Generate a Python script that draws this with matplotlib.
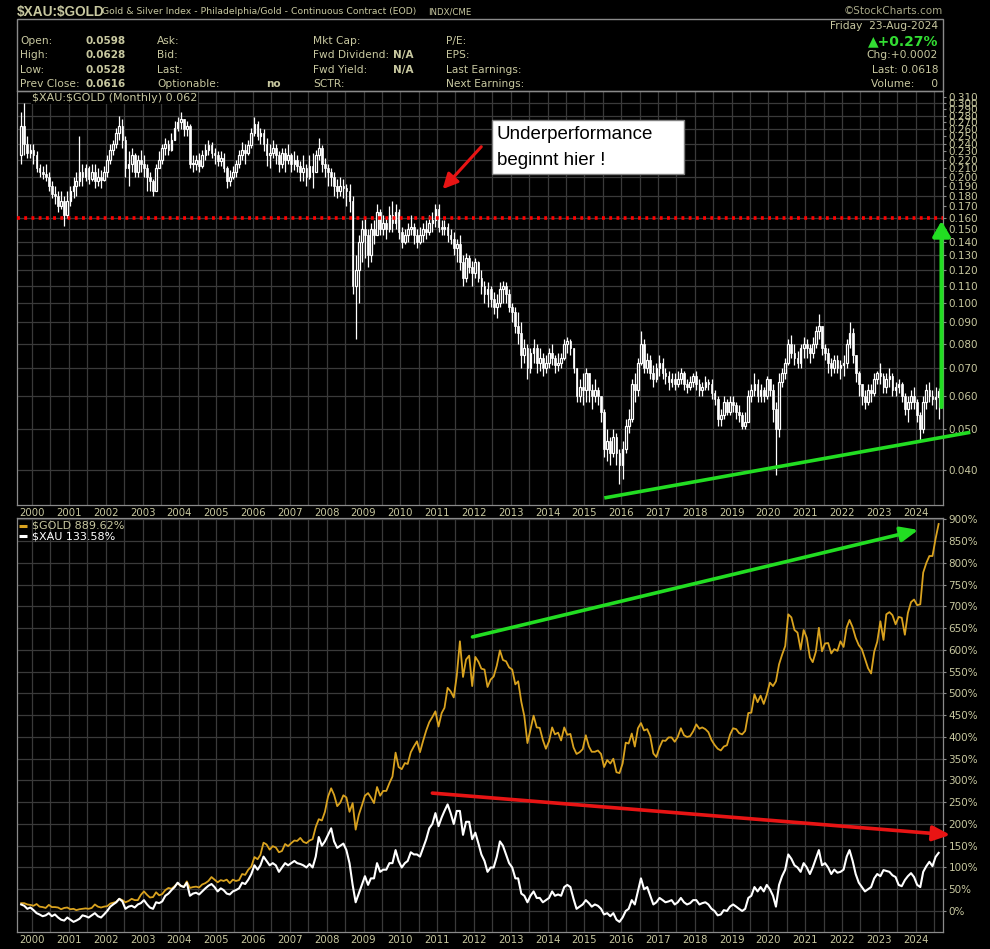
import numpy as np
import pandas as pd
import matplotlib
matplotlib.use("Agg")
import matplotlib.pyplot as plt
import matplotlib.dates as mdates
from matplotlib.ticker import FixedLocator, NullLocator, FuncFormatter
from matplotlib.patches import Rectangle

# ---- data: monthly $XAU:$GOLD ratio, Sep 1999 .. Aug 2024 ----
first_open = 0.225
close = [
    .265, .240, .228, .232,  # 1999 Sep-Dec
    .225, .210, .205, .203, .200, .190, .182, .180, .170, .175, .162, .175,  # 2000
    .185, .190, .195, .205, .200, .210, .198, .205, .195, .200, .197, .205,  # 2001
    .220, .232, .240, .255, .265, .245, .210, .215, .225, .205, .220, .215,  # 2002
    .210, .200, .195, .185, .210, .220, .235, .240, .232, .245, .262, .270,  # 2003
    .275, .260, .265, .215, .215, .220, .212, .225, .232, .238, .228, .225,  # 2004
    .218, .222, .210, .195, .200, .205, .215, .225, .232, .228, .238, .255,  # 2005
    .268, .250, .255, .240, .225, .228, .235, .225, .215, .228, .220, .225,  # 2006
    .215, .220, .212, .205, .210, .200, .212, .205, .225, .235, .215, .210,  # 2007
    .205, .200, .190, .185, .190, .188, .185, .175, .110, .120, .140, .150,  # 2008
    .145, .130, .150, .145, .165, .150, .155, .150, .162, .155, .165, .148,  # 2009
    .140, .145, .150, .152, .145, .140, .145, .150, .148, .155, .158, .168,  # 2010
    .152, .150, .152, .145, .142, .135, .138, .125, .115, .128, .122, .118,  # 2011
    .125, .115, .110, .105, .108, .102, .098, .100, .108, .110, .105, .098,  # 2012
    .095, .088, .085, .075, .078, .070, .076, .078, .072, .074, .070, .072,  # 2013
    .076, .074, .071, .072, .074, .080, .081, .078, .070, .060, .063, .062,  # 2014
    .068, .062, .060, .062, .060, .055, .045, .047, .044, .048, .044, .041,  # 2015
    .045, .051, .053, .064, .062, .072, .080, .070, .073, .068, .066, .070,  # 2016
    .072, .068, .067, .065, .066, .064, .066, .068, .064, .063, .065, .067,  # 2017
    .064, .062, .063, .065, .064, .061, .059, .053, .054, .058, .055, .058,  # 2018
    .057, .055, .054, .051, .052, .060, .062, .064, .060, .062, .060, .066,  # 2019
    .062, .056, .050, .065, .068, .072, .080, .076, .074, .072, .078, .080,  # 2020
    .078, .076, .080, .086, .088, .078, .076, .072, .070, .073, .070, .071,  # 2021
    .072, .080, .085, .075, .068, .064, .060, .058, .062, .061, .066, .068,  # 2022
    .067, .063, .066, .067, .062, .063, .064, .060, .056, .058, .060, .058,  # 2023
    .054, .050, .058, .062, .060, .059, .0598, .0618,  # 2024 Jan-Aug
]
high = [
    .285, .300, .250, .240,
    .240, .230, .215, .212, .215, .205, .195, .190, .185, .185, .180, .185,
    .190, .200, .205, .250, .215, .215, .212, .215, .215, .210, .208, .212,
    .225, .240, .245, .262, .280, .275, .250, .230, .235, .228, .226, .232,
    .225, .215, .205, .198, .215, .230, .240, .248, .245, .255, .272, .278,
    .285, .275, .272, .268, .225, .225, .228, .232, .240, .245, .242, .235,
    .230, .230, .228, .212, .208, .212, .220, .232, .242, .240, .245, .262,
    .278, .272, .262, .260, .248, .240, .245, .240, .230, .235, .235, .240,
    .228, .230, .225, .218, .225, .215, .225, .228, .232, .248, .238, .222,
    .215, .210, .205, .198, .200, .198, .192, .192, .180, .130, .145, .158,
    .160, .150, .155, .158, .172, .168, .162, .160, .170, .175, .172, .168,
    .152, .150, .155, .162, .155, .150, .152, .155, .158, .162, .165, .172,
    .172, .158, .158, .155, .150, .148, .142, .145, .130, .132, .130, .126,
    .128, .126, .120, .113, .112, .110, .106, .105, .112, .113, .112, .108,
    .100, .098, .095, .090, .082, .080, .078, .082, .080, .078, .076, .075,
    .078, .080, .075, .076, .076, .082, .083, .082, .078, .070, .066, .068,
    .070, .068, .064, .066, .063, .060, .056, .050, .048, .050, .049, .045,
    .047, .053, .056, .066, .068, .074, .086, .082, .076, .075, .071, .072,
    .075, .074, .070, .069, .068, .068, .069, .070, .069, .066, .067, .068,
    .069, .066, .065, .067, .066, .066, .062, .060, .056, .060, .059, .060,
    .060, .058, .057, .055, .055, .062, .064, .068, .066, .064, .063, .067,
    .066, .064, .058, .068, .070, .074, .082, .084, .080, .077, .080, .083,
    .082, .080, .083, .088, .094, .088, .080, .078, .074, .075, .075, .073,
    .075, .082, .090, .087, .075, .069, .064, .062, .064, .064, .068, .069,
    .072, .068, .068, .070, .068, .065, .066, .065, .061, .060, .062, .063,
    .059, .055, .060, .064, .065, .062, .063, .0628,
]
low = [
    .215, .225, .222, .222,
    .215, .205, .200, .198, .195, .185, .178, .172, .165, .168, .153, .160,
    .170, .178, .180, .190, .190, .195, .192, .195, .188, .190, .188, .195,
    .200, .215, .225, .235, .245, .235, .200, .190, .205, .200, .200, .205,
    .200, .185, .185, .180, .185, .210, .215, .225, .225, .230, .245, .258,
    .260, .250, .250, .210, .205, .208, .205, .210, .220, .225, .222, .215,
    .212, .212, .205, .188, .190, .198, .200, .210, .220, .215, .225, .235,
    .250, .245, .240, .230, .212, .210, .222, .215, .205, .210, .205, .215,
    .205, .208, .205, .195, .195, .190, .198, .188, .205, .220, .205, .200,
    .190, .190, .180, .178, .180, .178, .170, .165, .105, .082, .100, .125,
    .128, .122, .125, .138, .145, .145, .145, .142, .148, .148, .150, .142,
    .135, .138, .140, .145, .138, .135, .138, .140, .142, .145, .148, .152,
    .148, .145, .145, .140, .138, .130, .125, .120, .110, .112, .118, .110,
    .115, .112, .105, .100, .098, .098, .094, .092, .098, .100, .100, .095,
    .090, .085, .080, .070, .072, .066, .068, .072, .068, .069, .067, .068,
    .070, .071, .068, .069, .070, .073, .076, .075, .068, .058, .058, .057,
    .058, .058, .056, .058, .057, .052, .043, .042, .041, .043, .041, .037,
    .038, .044, .049, .052, .058, .060, .071, .068, .068, .066, .063, .065,
    .067, .066, .064, .062, .063, .062, .063, .064, .062, .061, .062, .063,
    .062, .060, .060, .062, .062, .059, .057, .051, .051, .053, .054, .054,
    .055, .053, .052, .050, .050, .052, .058, .060, .058, .058, .058, .059,
    .060, .052, .039, .048, .063, .066, .071, .074, .071, .070, .070, .074,
    .074, .072, .074, .078, .082, .075, .073, .068, .067, .068, .068, .066,
    .067, .070, .078, .072, .065, .060, .057, .056, .057, .058, .060, .064,
    .064, .061, .061, .063, .060, .060, .061, .058, .054, .052, .056, .056,
    .052, .047, .049, .056, .058, .057, .056, .0528,
]

# ---- data: % performance, Sep 1999 .. Aug 2024 ----
gold_pct = [
    18, 18, 15, 14,
    12, 16, 10, 9, 7, 14, 9, 9, 8, 4, 7, 8,
    4, 5, 2, 4, 5, 6, 5, 7, 15, 10, 8, 10,
    11, 17, 19, 21, 28, 25, 20, 23, 28, 25, 25, 37,
    45, 37, 31, 32, 43, 36, 39, 48, 53, 51, 57, 64,
    57, 56, 68, 53, 55, 56, 54, 61, 64, 69, 78, 72,
    66, 71, 69, 72, 64, 72, 69, 71, 85, 83, 95, 102,
    124, 119, 129, 157, 153, 141, 149, 146, 135, 138, 154, 149,
    156, 162, 161, 168, 159, 156, 162, 165, 193, 211, 208, 228,
    263, 282, 267, 241, 249, 266, 261, 228, 248, 187, 221, 242,
    265, 271, 261, 248, 285, 265, 276, 276, 294, 309, 364, 331,
    326, 340, 338, 365, 378, 390, 365, 391, 415, 434, 446, 459,
    424, 455, 467, 513, 505, 491, 541, 620, 538, 578, 587, 517,
    584, 573, 557, 555, 515, 532, 539, 564, 599, 577, 574, 560,
    555, 521, 528, 481, 448, 386, 417, 449, 422, 421, 393, 373,
    390, 422, 406, 410, 392, 422, 405, 407, 376, 361, 365, 372,
    404, 378, 366, 366, 369, 361, 331, 347, 339, 350, 319, 317,
    339, 387, 385, 408, 378, 420, 432, 415, 418, 402, 362, 354,
    376, 392, 391, 399, 399, 389, 400, 420, 404, 400, 402, 413,
    429, 419, 422, 418, 411, 393, 382, 373, 369, 378, 381, 405,
    420, 418, 409, 406, 414, 455, 456, 498, 480, 495, 476, 497,
    525, 517, 528, 567, 589, 609, 682, 675, 646, 640, 601, 646,
    628, 583, 572, 596, 651, 597, 615, 616, 592, 602, 598, 620,
    607, 652, 669, 652, 628, 611, 602, 580, 558, 546, 596, 619,
    666, 623, 682, 687, 680, 659, 676, 674, 635, 685, 710, 716,
    703, 705, 778, 800, 816, 816, 855, 889.62,
]
xau_pct = [
    15, 12, 5, 8,
    2, -5, -8, -12, -10, -5, -12, -8, -15, -20, -22, -15,
    -20, -25, -22, -18, -10, -12, -15, -10, -5, -12, -15, -8,
    0, 10, 15, 20, 28, 22, 5, 10, 12, 8, 15, 18,
    25, 15, 8, 5, 20, 18, 22, 35, 40, 48, 55, 65,
    58, 55, 65, 35, 40, 42, 38, 45, 52, 58, 62, 55,
    45, 52, 48, 40, 38, 45, 48, 52, 65, 62, 72, 85,
    105, 95, 105, 125, 115, 105, 110, 105, 90, 100, 110, 105,
    110, 115, 110, 108, 105, 100, 108, 100, 125, 170, 150, 160,
    175, 190, 160, 145, 150, 155, 140, 110, 60, 20, 40, 60,
    80, 60, 75, 75, 110, 90, 95, 95, 110, 110, 140, 115,
    100, 110, 115, 135, 130, 130, 125, 145, 165, 190, 200, 225,
    195, 215, 230, 245, 225, 200, 230, 230, 175, 205, 205, 165,
    180, 155, 130, 115, 90, 100, 100, 125, 160, 150, 130, 110,
    100, 75, 75, 40, 35, 20, 35, 45, 30, 30, 20, 25,
    30, 45, 35, 38, 35, 55, 60, 55, 28, 5, 10, 15,
    25, 18, 10, 15, 12, 5, -8, -5, -12, -5, -20, -25,
    -15, 0, 5, 25, 15, 45, 75, 50, 55, 35, 15, 20,
    30, 25, 20, 22, 25, 15, 20, 30, 20, 15, 18, 25,
    25, 15, 18, 20, 15, 5, 0, -10, -8, 2, 0, 10,
    15, 10, 5, 0, 5, 30, 35, 55, 45, 55, 45, 60,
    50, 35, 10, 60, 80, 95, 130, 120, 105, 100, 90, 110,
    100, 85, 100, 120, 140, 105, 110, 100, 85, 95, 88, 90,
    95, 125, 140, 115, 85, 65, 55, 45, 50, 55, 75, 85,
    80, 94, 92, 90, 82, 78, 60, 57, 71, 80, 87, 78,
    60, 55, 90, 103, 113, 103, 124, 133.58,
]

ratio_ticks = [round(0.04 + 0.01 * i, 2) for i in range(28)]
ratio_grid = [0.04, 0.05, 0.06, 0.07, 0.08, 0.09, 0.10, 0.11, 0.12, 0.13, 0.14, 0.15,
              0.16, 0.18, 0.20, 0.22, 0.24, 0.26, 0.28, 0.30]
pct_ticks = list(range(0, 901, 50))
support_level = 0.16

# ---- styling ----
BG = "black"
KHAKI = "#c8c8a0"
GRID = "#3a3a3a"
SPINE = "#8a8a8a"
GREEN = "#22dd22"
RED = "#e81414"
GOLDC = "#d9a21f"

W, H = 990, 949
dates = pd.date_range("1999-09-01", periods=len(close), freq="MS") + pd.Timedelta(days=14)
x = mdates.date2num(dates)
close = np.array(close)
opens = np.r_[first_open, close[:-1]]
high = np.array(high)
low = np.array(low)


def yr(t):
    y0 = int(np.floor(t))
    return mdates.date2num(pd.Timestamp(y0, 1, 1)) + (t - y0) * 365.25


def fpos(px, py):
    return px / W, 1 - py / H


fig = plt.figure(figsize=(W / 100, H / 100), dpi=100, facecolor=BG)
ax1 = fig.add_axes([17 / W, 1 - 505 / H, 926 / W, 414 / H], facecolor=BG)
ax2 = fig.add_axes([17 / W, 1 - 932 / H, 926 / W, 414 / H], facecolor=BG)

for ax in (ax1, ax2):
    ax.set_xlim(yr(1999.59), yr(2024.74))
    ax.xaxis.set_major_locator(mdates.YearLocator(1))
    ax.xaxis.set_major_formatter(mdates.DateFormatter("%Y"))
    ax.xaxis.set_minor_locator(mdates.MonthLocator(bymonth=7))
    ax.grid(True, axis="x", which="both", color=GRID, lw=0.9)
    ax.yaxis.tick_right()
    ax.tick_params(axis="x", which="both", length=0, pad=2, labelsize=7.3, labelcolor=KHAKI)
    ax.tick_params(axis="y", which="both", direction="out", length=2.5, width=0.8,
                   color=SPINE, pad=1.5, labelsize=7.5, labelcolor=KHAKI)
    for s in ax.spines.values():
        s.set_color(SPINE)
        s.set_linewidth(0.9)
    ax.set_axisbelow(True)

# ---- top panel: candles ----
ax1.set_yscale("log")
ax1.set_ylim(0.0330, 0.3205)
ax1.yaxis.set_major_locator(FixedLocator(ratio_ticks))
ax1.yaxis.set_minor_locator(NullLocator())
ax1.yaxis.set_major_formatter(FuncFormatter(lambda v, p: f"{v:.3f}"))
for g in ratio_grid:
    ax1.axhline(g, color=GRID, lw=0.9, zorder=0)

ax1.vlines(x, low, high, color="white", lw=0.9, zorder=2)
up = close >= opens
bot = np.minimum(opens, close)
hgt = np.maximum(np.abs(close - opens), 0.0006)
ax1.bar(x[~up], hgt[~up], bottom=bot[~up], width=17, color="white",
        edgecolor="white", lw=0.5, zorder=3)
ax1.bar(x[up], hgt[up], bottom=bot[up], width=17, color=BG,
        edgecolor="white", lw=0.9, zorder=3)

ax1.axhline(support_level, color="#ff0000", lw=2.6, ls=(0, (0.8, 1.2)), zorder=4)
ax1.text(0.0162, 0.983, r"\$XAU:\$GOLD (Monthly) 0.062", transform=ax1.transAxes,
         color=KHAKI, fontsize=8, va="center", ha="left", zorder=6,
         bbox=dict(facecolor=BG, edgecolor="none", pad=0.5))

# annotations
ax1.plot([yr(2015.54), yr(2025.48)], [0.0343, 0.0492], color=GREEN, lw=2.6,
         solid_capstyle="butt", clip_on=False, zorder=5)
ax1.annotate("", xy=(yr(2024.70), 0.157), xytext=(yr(2024.70), 0.0565),
             arrowprops=dict(arrowstyle="-|>,head_length=0.6,head_width=0.35",
                             color=GREEN, lw=3, mutation_scale=15, shrinkA=0, shrinkB=0),
             annotation_clip=False, zorder=5)
ax1.annotate("", xy=(yr(2011.15), 0.187), xytext=(yr(2012.2), 0.236),
             arrowprops=dict(arrowstyle="-|>,head_length=0.6,head_width=0.3",
                             color=RED, lw=2.2, mutation_scale=15, shrinkA=0, shrinkB=0),
             zorder=5)
ax1.add_patch(Rectangle((0.513, 0.7995), 0.2073, 0.1304, transform=ax1.transAxes,
                        facecolor="white", edgecolor="#808080", lw=1, zorder=6))
ax1.text(0.518, 0.896, "Underperformance", transform=ax1.transAxes, color="black",
         fontsize=13.5, family="Liberation Sans", va="center", ha="left", zorder=7)
ax1.text(0.518, 0.833, "beginnt hier !", transform=ax1.transAxes, color="black",
         fontsize=13.5, family="Liberation Sans", va="center", ha="left", zorder=7)

# ---- lower panel: % performance ----
ax2.set_ylim(-48.3, 903.4)
ax2.yaxis.set_major_locator(FixedLocator(pct_ticks))
ax2.yaxis.set_major_formatter(FuncFormatter(lambda v, p: f"{v:.0f}%"))
ax2.grid(True, axis="y", color=GRID, lw=0.9)
ax2.plot(x, gold_pct, color=GOLDC, lw=1.3, zorder=3)
ax2.plot(x, xau_pct, color="white", lw=1.5, zorder=3)

ax2.annotate("", xy=(yr(2024.07), 876), xytext=(yr(2011.96), 630),
             arrowprops=dict(arrowstyle="-|>,head_length=0.7,head_width=0.3",
                             color=GREEN, lw=2.6, mutation_scale=15, shrinkA=0, shrinkB=0),
             zorder=5)
ax2.annotate("", xy=(yr(2024.94), 175), xytext=(yr(2010.87), 271),
             arrowprops=dict(arrowstyle="-|>,head_length=0.7,head_width=0.3",
                             color=RED, lw=2.6, mutation_scale=15, shrinkA=0, shrinkB=0),
             annotation_clip=False, zorder=5)

# legend
ax2.plot([0.0022, 0.0108], [0.9807, 0.9807], color=GOLDC, lw=2.2, transform=ax2.transAxes,
         solid_capstyle="butt", zorder=6)
ax2.plot([0.0022, 0.0108], [0.9565, 0.9565], color="white", lw=2.2, transform=ax2.transAxes,
         solid_capstyle="butt", zorder=6)
ax2.text(0.0162, 0.9807, r"\$GOLD 889.62%", transform=ax2.transAxes, color=KHAKI,
         fontsize=8, va="center", ha="left", zorder=6)
ax2.text(0.0162, 0.9565, r"\$XAU 133.58%", transform=ax2.transAxes, color="white",
         fontsize=8, va="center", ha="left", zorder=6)

# ---- header ----
fig.patches.append(Rectangle(fpos(17, 91), 926 / W, 72 / H, transform=fig.transFigure,
                             fill=False, edgecolor=SPINE, lw=1))


def T(px, py, s, **kw):
    kw.setdefault("color", KHAKI)
    kw.setdefault("fontsize", 7.7)
    kw.setdefault("va", "center")
    fig.text(*fpos(px, py), s, **kw)


T(17, 12, r"\$XAU:\$GOLD", fontsize=9.8, weight="bold", family="Liberation Sans")
T(102, 12, "Gold & Silver Index - Philadelphia/Gold - Continuous Contract (EOD)", fontsize=6.7)
T(428, 12, "INDX/CME", fontsize=6.2)
T(943, 11, "\u00a9StockCharts.com", fontsize=7.5, ha="right", color="#a8a888")

rows = [41, 55, 70, 84]
for lab, val, yy in zip(["Open:", "High:", "Low:", "Prev Close:"],
                        ["0.0598", "0.0628", "0.0528", "0.0616"], rows):
    T(20, yy, lab)
    T(86, yy, val, weight="bold", fontsize=7.5)
for lab, yy in zip(["Ask:", "Bid:", "Last:", "Optionable:"], rows):
    T(157, yy, lab)
T(266, 84, "no", weight="bold", fontsize=7.5)
for lab, yy in zip(["Mkt Cap:", "Fwd Dividend:", "Fwd Yield:", "SCTR:"], rows):
    T(313, yy, lab)
T(393, 55, "N/A", weight="bold", fontsize=7.5)
T(393, 70, "N/A", weight="bold", fontsize=7.5)
for lab, yy in zip(["P/E:", "EPS:", "Last Earnings:", "Next Earnings:"], rows):
    T(446, yy, lab)
T(938, 26, "Friday  23-Aug-2024", ha="right")
T(938, 41, "\u25b2+0.27%", ha="right", color="#33dd33", weight="bold", fontsize=10)
T(938, 55, "Chg:+0.0002", ha="right")
T(938, 70, "Last: 0.0618", ha="right")
T(938, 84, "Volume:     0", ha="right")

fig.savefig("out.png", dpi=100, facecolor=BG)
